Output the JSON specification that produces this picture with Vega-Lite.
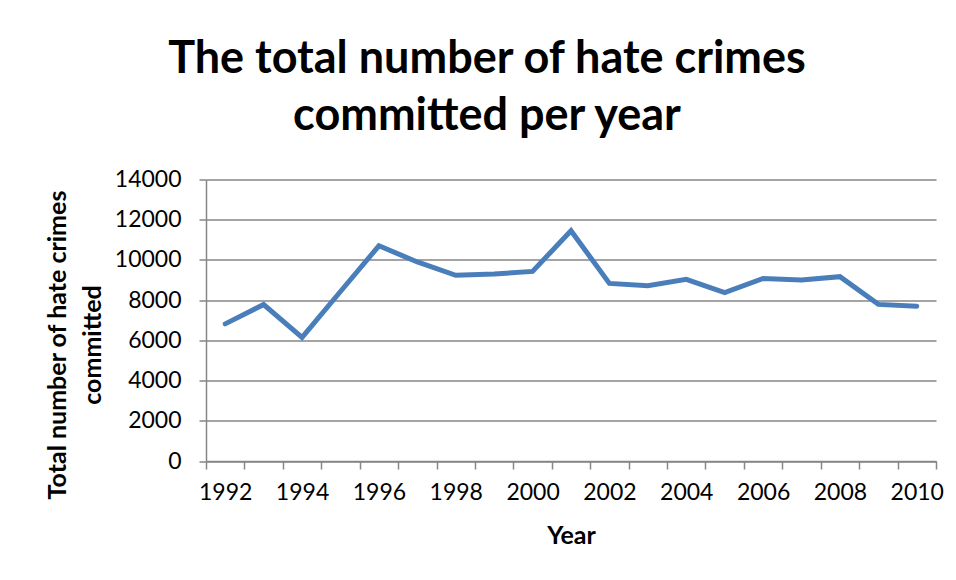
{
  "$schema": "https://vega.github.io/schema/vega-lite/v6.json",
  "width": 730,
  "height": 281.5,
  "autosize": "none",
  "padding": {"left": 206, "top": 179.5, "right": 20, "bottom": 119},
  "background": "white",
  "title": {
    "text": ["The total number of hate crimes", "committed per year"],
    "font": "Lato",
    "fontSize": 45,
    "fontWeight": "bold",
    "color": "black",
    "anchor": "middle",
    "dx": -84,
    "offset": 30,
    "lineHeight": 57
  },
  "data": {
    "values": [
      {"year": "1992", "crimes": 6820},
      {"year": "1993", "crimes": 7780},
      {"year": "1994", "crimes": 6150},
      {"year": "1995", "crimes": 8430},
      {"year": "1996", "crimes": 10702},
      {"year": "1997", "crimes": 9900},
      {"year": "1998", "crimes": 9235},
      {"year": "1999", "crimes": 9301},
      {"year": "2000", "crimes": 9430},
      {"year": "2001", "crimes": 11451},
      {"year": "2002", "crimes": 8832},
      {"year": "2003", "crimes": 8715},
      {"year": "2004", "crimes": 9035},
      {"year": "2005", "crimes": 8380},
      {"year": "2006", "crimes": 9080},
      {"year": "2007", "crimes": 9006},
      {"year": "2008", "crimes": 9168},
      {"year": "2009", "crimes": 7789},
      {"year": "2010", "crimes": 7699}
    ]
  },
  "mark": {"type": "line", "color": "#4A7EBB", "strokeWidth": 5, "strokeJoin": "miter", "strokeCap": "round"},
  "encoding": {
    "x": {
      "field": "year",
      "type": "ordinal",
      "bandPosition": 0.5,
      "scale": {"type": "band", "paddingInner": 0, "paddingOuter": 0},
      "axis": {
        "title": "Year",
        "titleFont": "Lato",
        "titleFontSize": 25,
        "titleFontWeight": "bold",
        "titleColor": "black",
        "titlePadding": 19,
        "labelFont": "Lato",
        "labelFontSize": 23,
        "labelColor": "black",
        "labelAngle": 0,
        "labelPadding": 12,
        "labelExpr": "toNumber(datum.value) % 2 == 0 ? datum.label : ''",
        "labelOverlap": false,
        "tickBand": "extent",
        "tickSize": 8,
        "tickColor": "#868686",
        "tickWidth": 1.5,
        "domainColor": "#868686",
        "domainWidth": 1.5,
        "grid": false
      }
    },
    "y": {
      "field": "crimes",
      "type": "quantitative",
      "scale": {"domain": [0, 14000], "nice": false},
      "axis": {
        "title": ["Total number of hate crimes", "committed"],
        "titleFont": "Lato",
        "titleFontSize": 25,
        "titleFontWeight": "bold",
        "titleColor": "black",
        "titleAngle": -90,
        "titleAlign": "center",
        "titleBaseline": "middle",
        "titleLineHeight": 35,
        "titleX": -149,
        "titleY": 165,
        "values": [0, 2000, 4000, 6000, 8000, 10000, 12000, 14000],
        "format": "d",
        "labelFont": "Lato",
        "labelFontSize": 23,
        "labelColor": "black",
        "labelPadding": 18,
        "tickSize": 7,
        "tickColor": "#868686",
        "tickWidth": 1.5,
        "domainColor": "#868686",
        "domainWidth": 1.5,
        "grid": true,
        "gridColor": "#868686",
        "gridWidth": 1.5
      }
    }
  },
  "config": {"view": {"stroke": null}}
}
